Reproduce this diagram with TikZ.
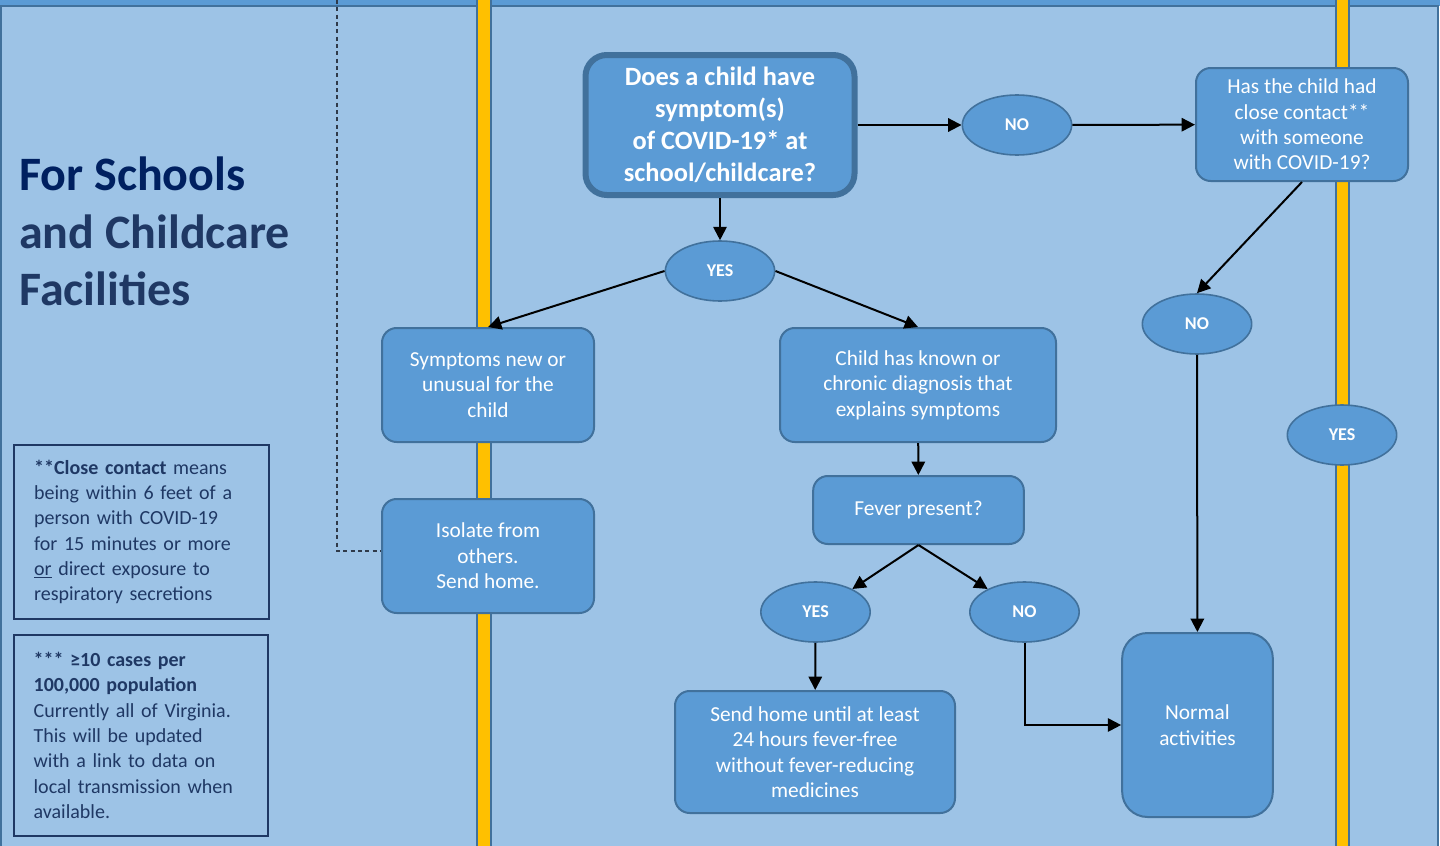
\documentclass[tikz,border=0pt]{standalone}
\usepackage{fontspec}
\setmainfont{Carlito}
\usetikzlibrary{shapes.geometric, arrows.meta}
\definecolor{bgblue}{HTML}{9DC3E6}
\definecolor{boxblue}{HTML}{5B9BD5}
\definecolor{edgeblue}{HTML}{41719C}
\definecolor{baryellow}{HTML}{FFC000}
\definecolor{navy}{HTML}{1F3864}
\definecolor{darknavy}{HTML}{002060}
\definecolor{dashgrey}{HTML}{2F3A4A}
\begin{document}
\begin{tikzpicture}[x=0.75pt, y=-0.75pt,
	box/.style={draw=edgeblue, fill=boxblue, line width=1.5pt, rounded corners=11pt, text=white, align=center, inner sep=0pt, font=\fontsize{16}{19}\selectfont},
	ans/.style={ellipse, draw=edgeblue, fill=boxblue, line width=1.2pt, text=white, inner sep=0pt, minimum width=82pt, minimum height=45pt, font=\fontsize{13.5}{15}\selectfont\bfseries},
	note/.style={draw=navy, line width=1.3pt, text=navy, align=left, inner xsep=15pt, inner ysep=0pt, text width=161pt, font=\fontsize{15}{19}\selectfont},
	arr/.style={-{Triangle[length=10pt,width=10pt]}, line width=1.5pt}]
	\useasboundingbox (0,0) rectangle (1440,846);

	% background, top band and yellow bars
	\fill[boxblue] (0,-10) rectangle (1440,6);
	\filldraw[fill=bgblue, draw=edgeblue, line width=1.5pt] (1,6) rectangle (1438,870);
	\filldraw[fill=baryellow, draw=edgeblue, line width=1.5pt] (477,-10) rectangle (491,870);
	\filldraw[fill=baryellow, draw=edgeblue, line width=1.5pt] (1336,-10) rectangle (1349,870);

	\node[anchor=north west, inner sep=0pt, align=left, font=\fontsize{36}{43}\selectfont\bfseries, text=navy] (title) at (19,157)
		{\textcolor{darknavy}{For Schools}\\and Childcare\\Facilities};

	\node[note, minimum height=130.5pt] (contactnote) at (141.5,532)
		{\textbf{**Close contact} means\\being within 6 feet of a\\person with COVID-19\\for 15 minutes or more\\\underline{or} direct exposure to\\respiratory secretions};
	\node[note, minimum height=150.75pt] (casesnote) at (141,735.5)
		{\textbf{*** ≥10 cases per}\\\textbf{100,000 population}\\Currently all of Virginia.\\This will be updated\\with a link to data on\\local transmission when\\available.};

	\node[box, line width=4.5pt, rounded corners=16pt, minimum width=201.75pt, minimum height=105pt, font=\fontsize{19.8}{24}\selectfont\bfseries] (symq) at (720,125)
		{Does a child have\\symptom(s)\\of COVID-19* at\\school/childcare?};
	\node[ans] (no1) at (1017,125) {NO};
	\node[box, minimum width=159pt, minimum height=84.75pt] (contact) at (1302,124.5)
		{Has the child had\\close contact**\\with someone\\with COVID-19?};
	\node[ans] (yes1) at (720,271) {YES};
	\node[box, minimum width=159pt, minimum height=85.5pt] (newsym) at (488,385)
		{Symptoms new or\\unusual for the\\child};
	\node[box, minimum width=207pt, minimum height=85.5pt] (chronic) at (918,385)
		{Child has known or\\chronic diagnosis that\\explains symptoms};
	\node[ans] (no2) at (1197,324) {NO};
	\node[ans] (yes2) at (1342,435) {YES};
	\node[box, minimum width=159pt, minimum height=85.5pt] (isolate) at (488,556)
		{Isolate from\\others.\\Send home.};
	\node[box, minimum width=158pt, minimum height=51pt] (fever) at (918.5,510) {Fever present?};
	\node[ans] (yes3) at (815.5,612) {YES};
	\node[ans] (no3) at (1024.5,612) {NO};
	\node[box, minimum width=210pt, minimum height=91.5pt] (sendhome) at (815,752)
		{Send home until at least\\24 hours fever-free\\without fever-reducing\\medicines};
	\node[box, rounded corners=19pt, minimum width=113pt, minimum height=138pt] (normal) at (1197.5,725)
		{Normal\\activities};

	\coordinate (dashtop) at (337,0);
	\draw[dashgrey, line width=0.9pt, dash pattern=on 3pt off 2.5pt] (dashtop) |- ([yshift=3.75pt]isolate.west);

	\path (symq) edge[arr] (no1)
	(no1) edge[arr] (contact)
	(contact.south) edge[arr] (no2.north)
	(symq) edge[arr] (yes1)
	(yes1.west) edge[arr] (newsym.north)
	(yes1.east) edge[arr] (chronic.north)
	(chronic) edge[arr] (fever)
	(fever.south) edge[arr] (yes3.32)
	(fever.south) edge[arr] (no3.148)
	(yes3) edge[arr] (sendhome)
	(no3.south) edge[arr, to path={|- (\tikztotarget)}] (normal.west)
	(no2) edge[arr] (normal);
\end{tikzpicture}
\end{document}
